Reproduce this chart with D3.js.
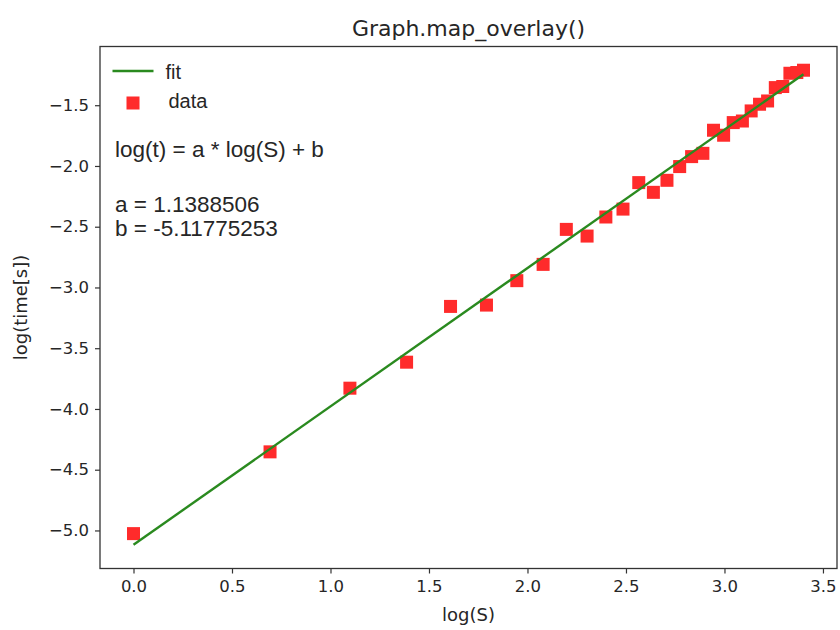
<!DOCTYPE html>
<html>
<head>
<meta charset="utf-8">
<script src="https://cdn.jsdelivr.net/npm/d3@7"></script>
<style>
  body { margin: 0; background: #fff; }
  svg text { fill: #262626; }
</style>
</head>
<body>
<div id="chart"></div>
<script>
// log(S) for S = 1..30 and the measured log(time)
const logS = [0, 0.6931, 1.0986, 1.3863, 1.6094, 1.7918, 1.9459, 2.0794, 2.1972, 2.3026,
  2.3979, 2.4849, 2.5649, 2.6391, 2.7081, 2.7726, 2.8332, 2.8904, 2.9444, 2.9957,
  3.0445, 3.0910, 3.1355, 3.1781, 3.2189, 3.2581, 3.2958, 3.3322, 3.3673, 3.4012];
const logT = [-5.026, -4.353, -3.829, -3.615, -3.156, -3.145, -2.944, -2.810, -2.522, -2.577,
  -2.420, -2.355, -2.137, -2.217, -2.118, -2.005, -1.923, -1.896, -1.706, -1.747,
  -1.643, -1.630, -1.547, -1.492, -1.465, -1.355, -1.346, -1.237, -1.231, -1.212];

// fitted line end points
const fitX = [0, 3.4012];
const fitY = [-5.1178, -1.2443];

const xTicks = [0, 0.5, 1.0, 1.5, 2.0, 2.5, 3.0, 3.5];
const yTicks = [-5.0, -4.5, -4.0, -3.5, -3.0, -2.5, -2.0, -1.5];

const textLines = ["log(t) = a * log(S) + b", "a = 1.1388506", "b = -5.11775253"];

const W = 840, H = 630;
const margin = {top: 46.5, right: 3, bottom: 61.5, left: 100};
const width = W - margin.left - margin.right;
const height = H - margin.top - margin.bottom;

const svg = d3.select("#chart").append("svg")
    .attr("width", W)
    .attr("height", H);

const g = svg.append("g")
    .attr("transform", `translate(${margin.left},${margin.top})`);

// matplotlib style 5% padding
const xExt = d3.extent(logS.concat(fitX));
const yExt = d3.extent(logT.concat(fitY));
const xPad = (xExt[1] - xExt[0]) * 0.05;
const yPad = (yExt[1] - yExt[0]) * 0.05;

const x = d3.scaleLinear().domain([xExt[0] - xPad, xExt[1] + xPad]).range([0, width]);
const y = d3.scaleLinear().domain([yExt[0] - yPad, yExt[1] + yPad]).range([height, 0]);

const fmt = d3.format(".1f");
const minus = v => fmt(v).replace("-", "\u2212");

// axes
const xAxis = g.append("g")
    .attr("transform", `translate(0,${height})`)
    .call(d3.axisBottom(x).tickValues(xTicks).tickFormat(minus).tickSize(5).tickPadding(7));
const yAxis = g.append("g")
    .call(d3.axisLeft(y).tickValues(yTicks).tickFormat(minus).tickSize(5).tickPadding(6));

[xAxis, yAxis].forEach(a => {
  a.select(".domain").remove();
  a.selectAll(".tick line").attr("stroke", "#333").attr("stroke-width", 1.2);
  a.selectAll(".tick text")
    .attr("font-family", "DejaVu Sans")
    .attr("font-size", 16.5)
    .attr("fill", "#262626");
});

// markers
g.selectAll(".pt")
  .data(logS.map((v, i) => [v, logT[i]]))
  .join("rect")
    .attr("class", "pt")
    .attr("x", d => x(d[0]) - 6.5)
    .attr("y", d => y(d[1]) - 6.5)
    .attr("width", 13)
    .attr("height", 13)
    .attr("fill", "#ff2b2b");

// fit line
g.append("path")
  .datum(fitX.map((v, i) => [v, fitY[i]]))
  .attr("fill", "none")
  .attr("stroke", "#2a8a1f")
  .attr("stroke-width", 2.4)
  .attr("d", d3.line().x(d => x(d[0])).y(d => y(d[1])));

// frame
g.append("rect")
  .attr("width", width)
  .attr("height", height)
  .attr("fill", "none")
  .attr("stroke", "#333")
  .attr("stroke-width", 1.3);

// legend
const leg = g.append("g").attr("transform", "translate(12.5,24.5)");
leg.append("line")
  .attr("x1", 0).attr("x2", 41).attr("y1", 0).attr("y2", 0)
  .attr("stroke", "#2a8a1f").attr("stroke-width", 2.4);
leg.append("rect")
  .attr("x", 14).attr("y", 25.5).attr("width", 13).attr("height", 13)
  .attr("fill", "#ff2b2b");
leg.append("text").attr("x", 53).attr("y", 8)
  .attr("font-family", "Liberation Sans").attr("font-size", 20).text("fit");
leg.append("text").attr("x", 56).attr("y", 36.5)
  .attr("font-family", "Liberation Sans").attr("font-size", 20).text("data");

// equation text
const ty = [110.5, 165.5, 189.5];
textLines.forEach((t, i) => {
  g.append("text")
    .attr("x", 15)
    .attr("y", ty[i])
    .attr("font-family", "Liberation Sans")
    .attr("font-size", 22.5)
    .text(t);
});

// title and labels
svg.append("text")
  .attr("x", margin.left + width / 2)
  .attr("y", 36)
  .attr("text-anchor", "middle")
  .attr("font-family", "DejaVu Sans")
  .attr("font-size", 22)
  .text("Graph.map_overlay()");

svg.append("text")
  .attr("x", margin.left + width / 2)
  .attr("y", 621)
  .attr("text-anchor", "middle")
  .attr("font-family", "DejaVu Sans")
  .attr("font-size", 18)
  .text("log(S)");

svg.append("text")
  .attr("transform", `translate(27,${margin.top + height / 2}) rotate(-90)`)
  .attr("text-anchor", "middle")
  .attr("font-family", "DejaVu Sans")
  .attr("font-size", 18)
  .text("log(time[s])");
</script>
</body>
</html>
